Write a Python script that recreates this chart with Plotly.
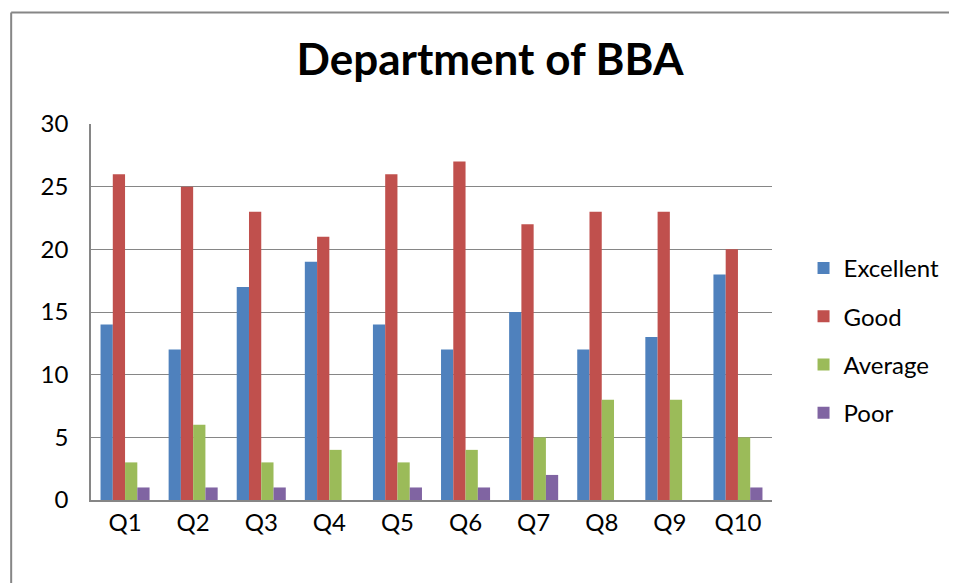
import plotly.graph_objects as go

categories = ["Q1", "Q2", "Q3", "Q4", "Q5", "Q6", "Q7", "Q8", "Q9", "Q10"]
excellent = [14, 12, 17, 19, 14, 12, 15, 12, 13, 18]
good = [26, 25, 23, 21, 26, 27, 22, 23, 23, 20]
average = [3, 6, 3, 4, 3, 4, 5, 8, 8, 5]
poor = [1, 1, 1, 0, 1, 1, 2, 0, 0, 1]
y_ticks = [0, 5, 10, 15, 20, 25, 30]

series = [
    ("Excellent", excellent, "#4F81BD"),
    ("Good", good, "#C0504D"),
    ("Average", average, "#9BBB59"),
    ("Poor", poor, "#8064A2"),
]

FONT = "Lato"
OFF = 8  # page body margin
W, H = 957 - OFF, 583 - OFF
L, R, T, B = 91 - OFF, 175, 124 - OFF, 83
pw = W - L - R
ph = H - T - B

fig = go.Figure()
for i, (name, vals, color) in enumerate(series):
    fig.add_trace(go.Bar(
        x=categories, y=vals, name=name,
        marker=dict(color=color, line=dict(width=0)),
        legendgroup=f"g{i}",
    ))

# outer chart border (only left and top edges visible)
bx = 10 - OFF
by = 12.5 - OFF
fig.add_shape(type="line", xref="paper", yref="paper",
              x0=(bx - L) / pw, x1=(bx - L) / pw,
              y0=(-B - 20) / ph, y1=(H - B - by) / ph,
              line=dict(color="#868686", width=2), layer="below")
fig.add_shape(type="line", xref="paper", yref="paper",
              x0=(bx - L) / pw, x1=(W + 10 - L) / pw,
              y0=(H - B - by) / ph, y1=(H - B - by) / ph,
              line=dict(color="#868686", width=2), layer="below")

fig.update_layout(
    width=W, height=H,
    margin=dict(l=L, r=R, t=T, b=B),
    paper_bgcolor="white", plot_bgcolor="white",
    barmode="group", bargap=0.28, bargroupgap=0,
    title=dict(text="<b>Department of BBA</b>", x=(490 - OFF) / W, xanchor="center",
               y=1 - (60 - OFF) / H, yanchor="middle",
               font=dict(family=FONT, size=44, color="black")),
    font=dict(family=FONT, size=24, color="black"),
    legend=dict(x=(814 - OFF - L) / pw, xanchor="left",
                y=(H - B - (340.5 - OFF)) / ph, yanchor="middle",
                font=dict(family=FONT, size=24, color="black"),
                tracegroupgap=14, bgcolor="rgba(0,0,0,0)"),
    xaxis=dict(showline=True, linecolor="#868686", linewidth=1.5,
               ticks="", showgrid=False, tickfont=dict(size=24),
               ticklabelstandoff=0),
    yaxis=dict(range=[0, 30], tickvals=y_ticks, showline=True,
               linecolor="#868686", linewidth=1.5,
               showgrid=True, gridcolor="#868686", gridwidth=1.2,
               ticks="", zeroline=False, tickfont=dict(size=24),
               ticklabelstandoff=16),
    showlegend=True,
)

fig.write_html("out.html")
